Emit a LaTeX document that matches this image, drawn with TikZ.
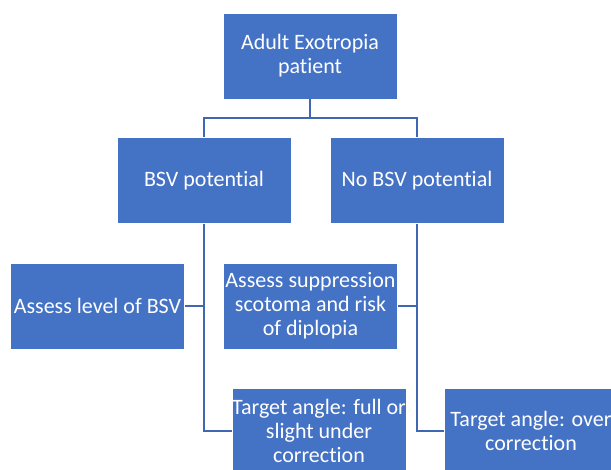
\documentclass[tikz,border=0pt]{standalone}
\usepackage{fontspec}
\setmainfont{Carlito}[Ligatures=NoCommon]
\definecolor{boxblue}{HTML}{4472C4}
\definecolor{lineblue}{HTML}{3F68B4}
\begin{document}
\begin{tikzpicture}[x=1pt,y=-1pt,
  box/.style={fill=boxblue,draw=white,line width=0.6pt,minimum width=174pt,minimum height=86pt,
    inner sep=0pt,text=white,align=center,font=\fontsize{22}{24}\selectfont},
  conn/.style={draw=lineblue,line width=2.2pt}]
\useasboundingbox (0,0) rectangle (611,469);
\clip (0,0) rectangle (611,469);
\node[box] (top) at (310,56) {Adult Exotropia\\patient};
\node[box] (bsv) at (204,180.5) {BSV potential};
\node[box] (nobsv) at (417,180.5) {No BSV potential};
\node[box] (lvl) at (97.5,306) {Assess level of BSV};
\node[box] (supp) at (310.5,306) {Assess suppression\\scotoma and risk\\of diplopia};
\node[box] (tfull) at (319,431) {Target angle: full or\\slight under\\correction};
\node[box] (tover) at (531,431) {Target angle: over\\correction};
\coordinate (mid) at (310,118);
\draw[conn] (top.south) -- (mid);
\draw[conn] (mid) -| (bsv.north);
\draw[conn] (mid) -| (nobsv.north);
\draw[conn] (bsv.south) |- (lvl.east);
\draw[conn] (bsv.south) |- (tfull.west);
\draw[conn] (nobsv.south) |- (supp.east);
\draw[conn] (nobsv.south) |- (tover.west);
\end{tikzpicture}
\end{document}
